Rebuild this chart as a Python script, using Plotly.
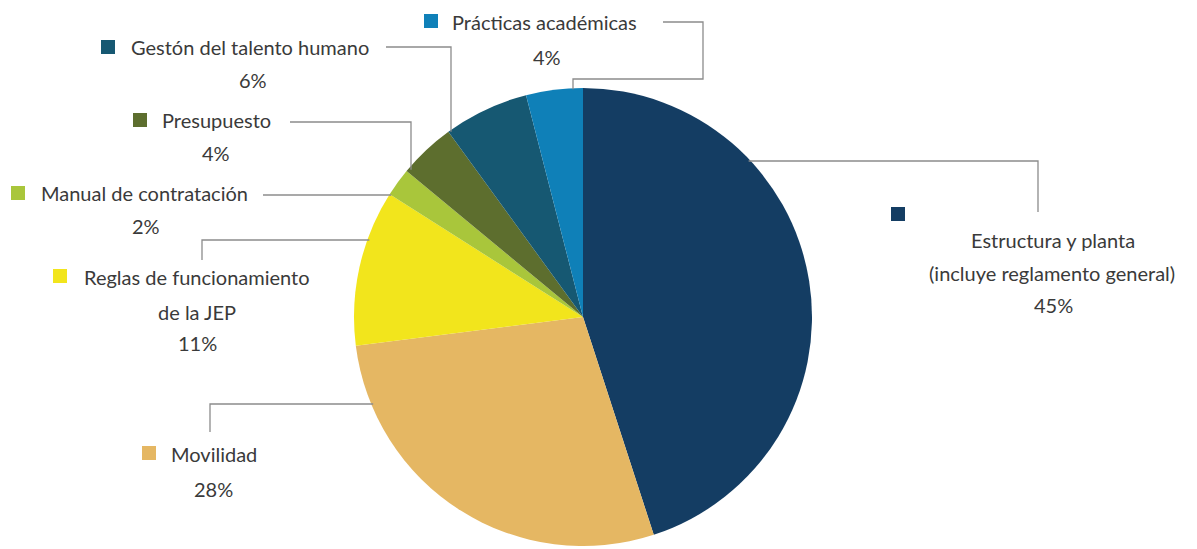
import math
import plotly.graph_objects as go

W, H = 1197, 549

categories = ["Estructura y planta (incluye reglamento general)", "Movilidad",
              "Reglas de funcionamiento de la JEP", "Manual de contratación",
              "Presupuesto", "Gestón del talento humano", "Prácticas académicas"]
values = [45, 28, 11, 2, 4, 6, 4]
colors = ["#143d63", "#e5b763", "#f2e51c", "#a9c63b", "#5d6e2e", "#165872", "#0f80b8"]

# pie geometry (pixels)
CX, CY, R = 583, 317, 229

def px(x):
    return x / W

def py(y):
    return 1 - y / H

def edge_x(y, side):
    return CX + side * math.sqrt(R ** 2 - (y - CY) ** 2)

def edge_y(x):
    return CY - math.sqrt(R ** 2 - (x - CX) ** 2)

fig = go.Figure()
fig.add_trace(go.Pie(
    values=values, labels=categories, sort=False, direction="clockwise",
    rotation=0, marker=dict(colors=colors, line=dict(width=0)),
    textinfo="none", hoverinfo="label+percent", showlegend=False,
    domain=dict(x=[px(CX - R), px(CX + R)], y=[py(CY + R), py(CY - R)]),
))

LINE = dict(color="#8c8c8c", width=1.3)

def path(points):
    d = "M " + " L ".join(f"{px(x)},{py(y)}" for x, y in points)
    fig.add_shape(type="path", path=d, xref="paper", yref="paper", line=LINE)

# leader lines
path([(663, 22), (703, 22), (703, 79), (573, 79), (573, edge_y(573) + 1)])
path([(386, 47), (451, 47), (451, edge_y(451) + 2)])
path([(290, 122), (411, 122), (411, edge_y(411) + 4)])
path([(263, 195), (edge_x(195, -1) + 2, 195)])
path([(202, 260), (202, 240), (edge_x(240, -1) + 2, 240)])
path([(210, 432), (210, 404), (edge_x(404, -1) + 2, 404)])
path([(1038, 212), (1038, 161), (edge_x(161, 1) - 2, 161)])

FONT = dict(family="Lato, 'Open Sans', sans-serif", size=20, color="#3a3a3a")

def text(t, x, y, anchor="center"):
    fig.add_annotation(text=t, x=px(x), y=py(y), xref="paper", yref="paper",
                       showarrow=False, xanchor=anchor, yanchor="middle", font=FONT)

def square(x0, y0, c, s=14):
    fig.add_shape(type="rect", x0=px(x0), x1=px(x0 + s), y0=py(y0 + s), y1=py(y0),
                  xref="paper", yref="paper", fillcolor=c, line=dict(width=0))

pct = [f"{v}%" for v in values]

# Prácticas
square(424, 14, colors[6]); text(categories[6], 450, 22, "left"); text(pct[6], 547, 57)
# Gestión
square(101, 40, colors[5]); text(categories[5], 129, 47, "left"); text(pct[5], 253, 80)
# Presupuesto
square(133, 113, colors[4]); text(categories[4], 160, 120, "left"); text(pct[4], 216, 153)
# Manual
square(11, 186, colors[3]); text(categories[3], 39, 193, "left"); text(pct[3], 146, 226)
# Reglas
square(53, 269, colors[2]); text("Reglas de funcionamiento", 82, 277, "left")
text("de la JEP", 197, 312); text(pct[2], 197, 343)
# Movilidad
square(142, 446, colors[1]); text(categories[1], 169, 454, "left"); text(pct[1], 213, 489)
# Estructura
square(891, 207, colors[0]); text("Estructura y planta", 1053, 240)
text("(incluye reglamento general)", 1052, 273); text(pct[0], 1053, 305)

fig.update_layout(width=W, height=H, margin=dict(l=0, r=0, t=0, b=0),
                  paper_bgcolor="white", plot_bgcolor="white")
fig.write_html("out.html", config={"displayModeBar": False},
               post_script="document.body.style.margin='0';")
